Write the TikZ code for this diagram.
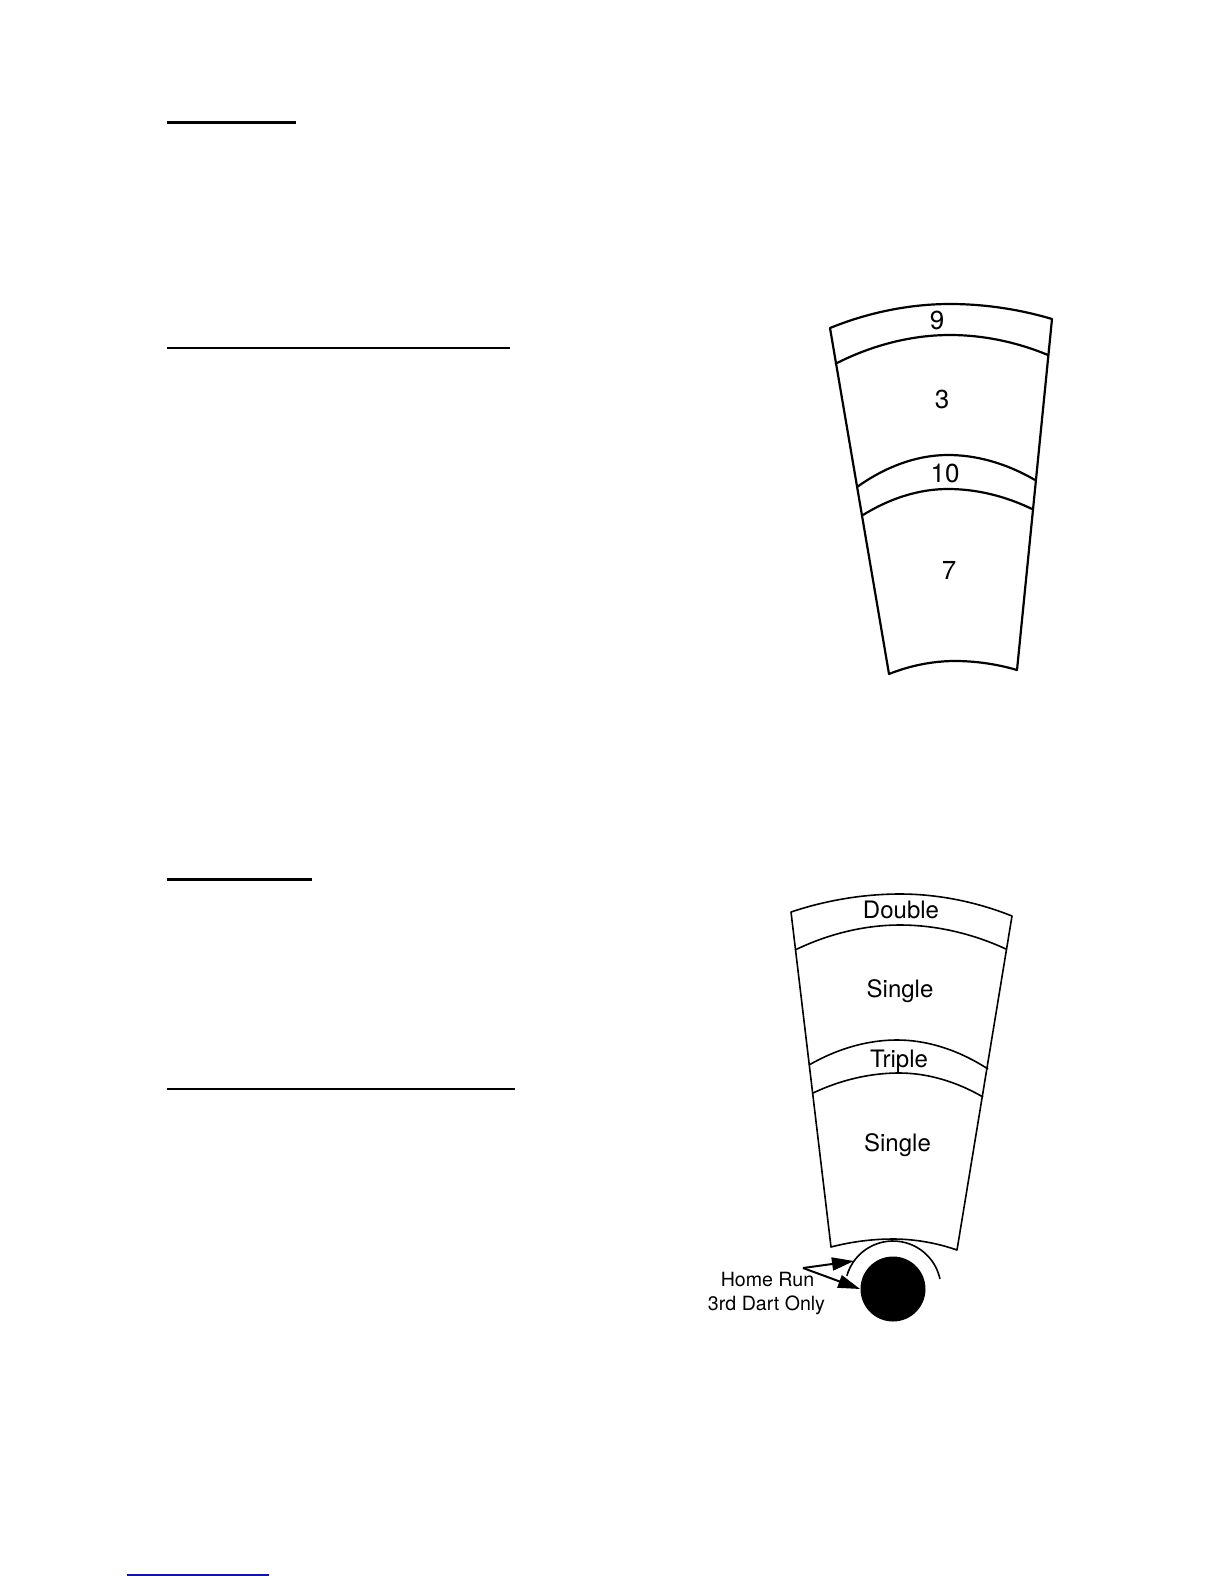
\documentclass[tikz,border=0pt]{standalone}
\usepackage{fontspec}
\setmainfont{TeX Gyre Heros}
\usetikzlibrary{arrows.meta}
\definecolor{linkblue}{RGB}{20,20,160}

\begin{document}
\begin{tikzpicture}[x=0.5pt,y=-0.5pt,
  fan/.style={draw, line width=1.1pt, line join=round},
  thinfan/.style={draw, line width=0.8pt, line join=round},
  numlbl/.style={inner sep=0pt, text height=9.2pt, text depth=0pt, font=\fontsize{13}{15}\selectfont},
  wordlbl/.style={inner sep=0pt, text height=8.6pt, text depth=0pt, font=\fontsize{12}{14}\selectfont},
  smalllbl/.style={inner sep=0pt, text height=6.4pt, text depth=0pt, font=\fontsize{9.8}{11}\selectfont},
  hrarrow/.style={-{Triangle[length=11pt,width=6.5pt]}, line width=1pt}]

  \useasboundingbox (0,0) rectangle (1224,1584);

  % --- Heading rules ---
  \draw[line width=1.5pt] (167,123) -- (296,123);
  \draw[line width=1pt] (167,347.5) -- (510,347.5);
  \draw[line width=1.5pt] (167,879.5) -- (312,879.5);
  \draw[line width=1pt] (167,1089) -- (515,1089);
  \draw[linkblue, line width=0.6pt] (127,1575) -- (269,1575);

  % --- Upper segment ---
  \draw[fan] (830,328) parabola bend (950,304) (1052,319)
    -- (1017,670) parabola bend (955,661) (889,674) -- cycle;
  \draw[fan] (835,364) parabola bend (950,335) (1048,355);
  \draw[fan] (857,487) parabola bend (948,455) (1035,480);
  \draw[fan] (863,515) parabola bend (948,489) (1032,509);

  \node[numlbl] (nine) at (937,320) {9};
  \node[numlbl] (three) at (942,399) {3};
  \node[numlbl] (ten) at (945,473) {10};
  \node[numlbl] (seven) at (949,570) {7};

  % --- Lower segment ---
  \draw[thinfan] (791,912) parabola bend (900,894) (1012,916)
    -- (957,1250) parabola bend (893,1239) (831,1247) -- cycle;
  \draw[thinfan] (795,950) parabola bend (900,925) (1006,949);
  \draw[thinfan] (809,1065) parabola bend (897,1040) (988,1069);
  \draw[thinfan] (813,1093) parabola bend (899,1073) (983,1097);

  \node[wordlbl] (double) at (901,910) {Double};
  \node[wordlbl] (single) at (900,989) {Single};
  \node[wordlbl] (triple) at (899,1059) {Triple};
  \node[wordlbl] (singlelow) at (897.5,1142.5) {Single};

  % --- Home run ---
  \node[circle, fill=black, minimum size=32.5pt, inner sep=0pt] (bull) at (893,1289) {};
  \draw[thinfan] (bull.center) ++(-164:48) arc[start angle=-164, end angle=-12, radius=48];

  \node[smalllbl] (homerun) at (767.5,1280.5) {Home Run};
  \node[smalllbl] (thirddart) at (766.5,1304) {3rd Dart Only};

  \coordinate (hrtail) at (803,1268);
  \coordinate (arcend) at (854,1261);
  \draw[hrarrow] (hrtail) -- (arcend);
  \draw[hrarrow] (hrtail) -- (bull.west);

\end{tikzpicture}
\end{document}
